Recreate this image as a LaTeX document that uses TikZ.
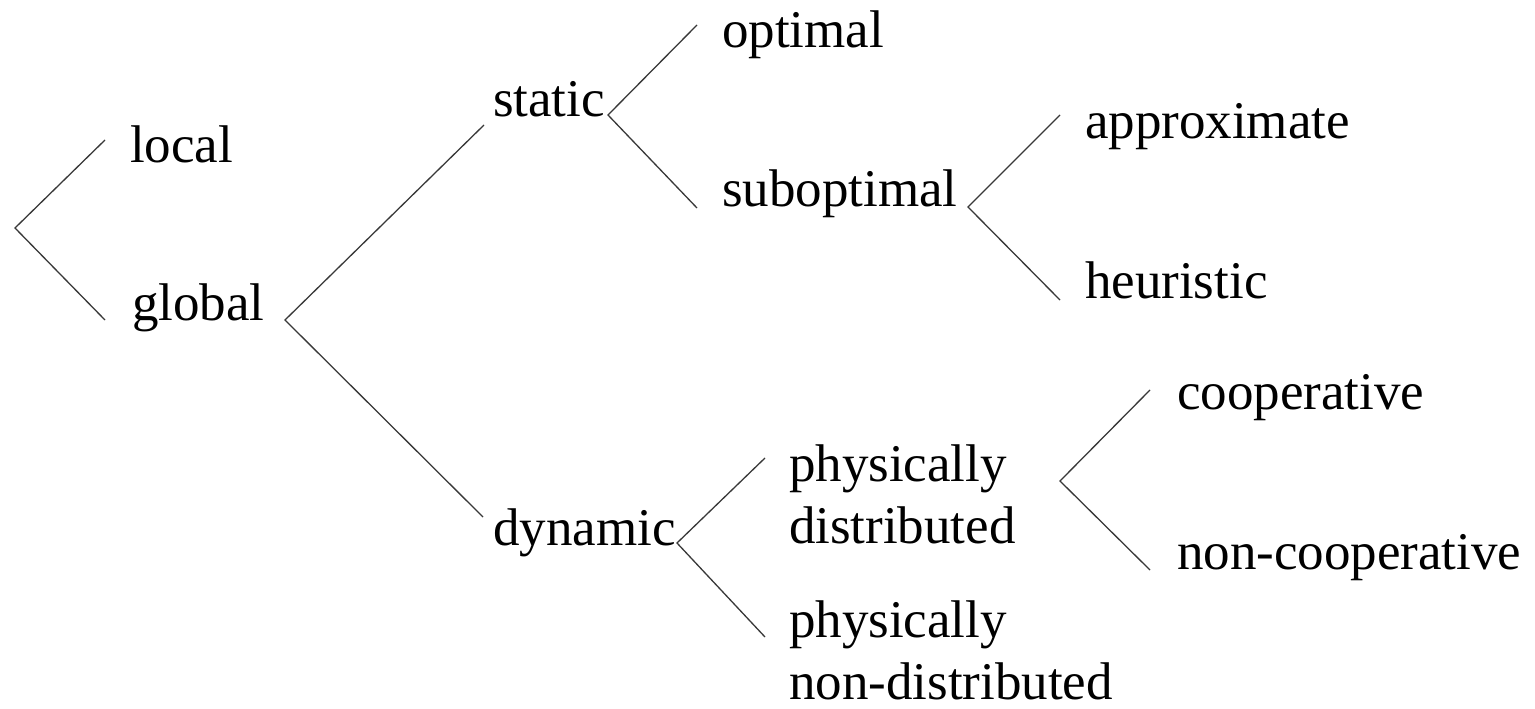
\documentclass[tikz,border=0pt]{standalone}
\usepackage{fontspec}
\setmainfont{Liberation Serif}
\newcommand{\twolines}[2]{\begin{tabular}[t]{@{}l@{}}#1\\#2\end{tabular}}
\begin{document}
\begin{tikzpicture}[x=1pt,y=-1pt,
  lbl/.style={anchor=base west,inner sep=0pt,outer sep=0pt,font=\fontsize{53}{62}\selectfont},
  branch/.style={line width=1.3pt,draw=black!78}]
\useasboundingbox[fill=white] (0,0) rectangle (1535,709);
% labels
\node[lbl] (local) at (130,162) {local};
\node[lbl] (global) at (132,320) {global};
\node[lbl] (static) at (493,117) {static};
\node[lbl] (dynamic) at (493,545) {dynamic};
\node[lbl] (optimal) at (722,48) {optimal};
\node[lbl] (suboptimal) at (722,206) {suboptimal};
\node[lbl] (approx) at (1085,138) {approximate};
\node[lbl] (heur) at (1085,298) {heuristic};
\node[lbl] (pdist) at (789,481) {\twolines{physically}{distributed}};
\node[lbl] (pndist) at (789,637) {\twolines{physically}{non-distributed}};
\node[lbl] (coop) at (1177,409) {cooperative};
\node[lbl] (noncoop) at (1177,569) {non-cooperative};
% branch points and free ends
\coordinate (root) at (15,228);
\coordinate (rootA) at (105,140);
\coordinate (rootB) at (105,320);
\coordinate (gv) at (285,320);
\coordinate (gA) at (484,125);
\coordinate (gB) at (483,517);
\coordinate (sv) at (608,115);
\coordinate (sA) at (697,25);
\coordinate (sB) at (697,208);
\coordinate (subv) at (968,207);
\coordinate (subA) at (1060,115);
\coordinate (subB) at (1060,300);
\coordinate (dv) at (677,543);
\coordinate (dA) at (765,458);
\coordinate (dB) at (765,637);
\coordinate (pv) at (1060,481);
\coordinate (pA) at (1150,390);
\coordinate (pB) at (1150,570);
% connectors
\draw[branch] (rootA) -- (root) -- (rootB);
\draw[branch] (gA) -- (gv) -- (gB);
\draw[branch] (sA) -- (sv) -- (sB);
\draw[branch] (subA) -- (subv) -- (subB);
\draw[branch] (dA) -- (dv) -- (dB);
\draw[branch] (pA) -- (pv) -- (pB);
\end{tikzpicture}
\end{document}
